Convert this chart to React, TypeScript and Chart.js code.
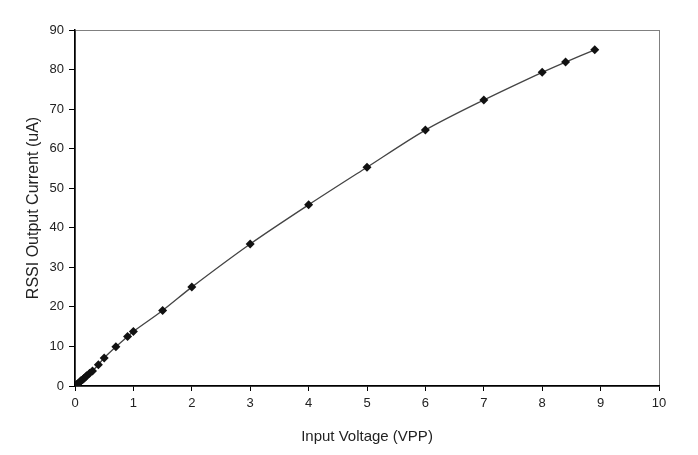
import React, { useEffect, useRef } from "react";
import { Chart, registerables } from "chart.js";

Chart.register(...registerables);

const voltages = [0.01, 0.03, 0.05, 0.08, 0.1, 0.13, 0.15, 0.18, 0.2, 0.25, 0.3, 0.4, 0.5, 0.7, 0.9, 1, 1.5, 2, 3, 4, 5, 6, 7, 8, 8.4, 8.9];
const currents = [0.1, 0.35, 0.6, 1.0, 1.3, 1.6, 1.9, 2.3, 2.6, 3.2, 3.8, 5.4, 7.1, 9.9, 12.5, 13.8, 19.1, 25.0, 35.9, 45.8, 55.3, 64.7, 72.3, 79.3, 81.9, 85.0];
const xTicks = [0, 1, 2, 3, 4, 5, 6, 7, 8, 9, 10];
const yTicks = [0, 10, 20, 30, 40, 50, 60, 70, 80, 90];

const framePlugin = {
  id: "frame",
  beforeDraw(chart: any) {
    const { ctx, chartArea } = chart;
    ctx.save();
    ctx.strokeStyle = "#808080";
    ctx.lineWidth = 1;
    ctx.strokeRect(chartArea.left + 0.5, chartArea.top + 0.5, chartArea.right - chartArea.left, chartArea.bottom - chartArea.top);
    ctx.restore();
  },
};

export default function App() {
  const ref = useRef<HTMLCanvasElement>(null);
  useEffect(() => {
    const font = "'Liberation Sans', Arial, sans-serif";
    const chart = new Chart(ref.current!, {
      type: "scatter",
      data: {
        datasets: [
          {
            data: voltages.map((v, i) => ({ x: v, y: currents[i] })),
            showLine: true,
            borderColor: "#444444",
            borderWidth: 1.3,
            tension: 0.3,
            pointStyle: "rectRot",
            pointRadius: 4.5,
            pointBackgroundColor: "#111111",
            pointBorderColor: "#111111",
            pointBorderWidth: 0,
          },
        ],
      },
      options: {
        animation: false,
        responsive: false,
        layout: { padding: { left: 24, top: 30, right: 39, bottom: 0 } },
        plugins: { legend: { display: false }, tooltip: { enabled: false } },
        scales: {
          x: {
            type: "linear",
            min: 0,
            max: 10,
            afterBuildTicks: (s: any) => { s.ticks = xTicks.map((v) => ({ value: v })); },
            afterFit: (s: any) => { s.height = 69; },
            grid: { drawOnChartArea: false, color: "#000", tickLength: 5 },
            border: { display: true, color: "#000", width: 1.5 },
            ticks: { color: "#222", font: { family: font, size: 13 }, padding: 5 },
            title: { display: true, text: "Input Voltage (VPP)", color: "#222", font: { family: font, size: 15 }, padding: { top: 10, bottom: 9 } },
          },
          y: {
            type: "linear",
            min: 0,
            max: 90,
            afterBuildTicks: (s: any) => { s.ticks = yTicks.map((v) => ({ value: v })); },
            afterFit: (s: any) => { s.width = 51; },
            grid: { drawOnChartArea: false, color: "#000", tickLength: 6 },
            border: { display: true, color: "#000", width: 1.5 },
            ticks: { color: "#222", font: { family: font, size: 13 }, padding: 5 },
            title: { display: true, text: "RSSI Output Current (uA)", color: "#222", font: { family: font, size: 16 }, padding: { top: 0, bottom: 0 } },
          },
        },
      },
      plugins: [framePlugin],
    });
    return () => chart.destroy();
  }, []);
  return (
    <div style={{ position: "absolute", left: 0, top: 0, width: 698, height: 455, background: "#fff" }}>
      <canvas ref={ref} width={698} height={455} />
    </div>
  );
}
